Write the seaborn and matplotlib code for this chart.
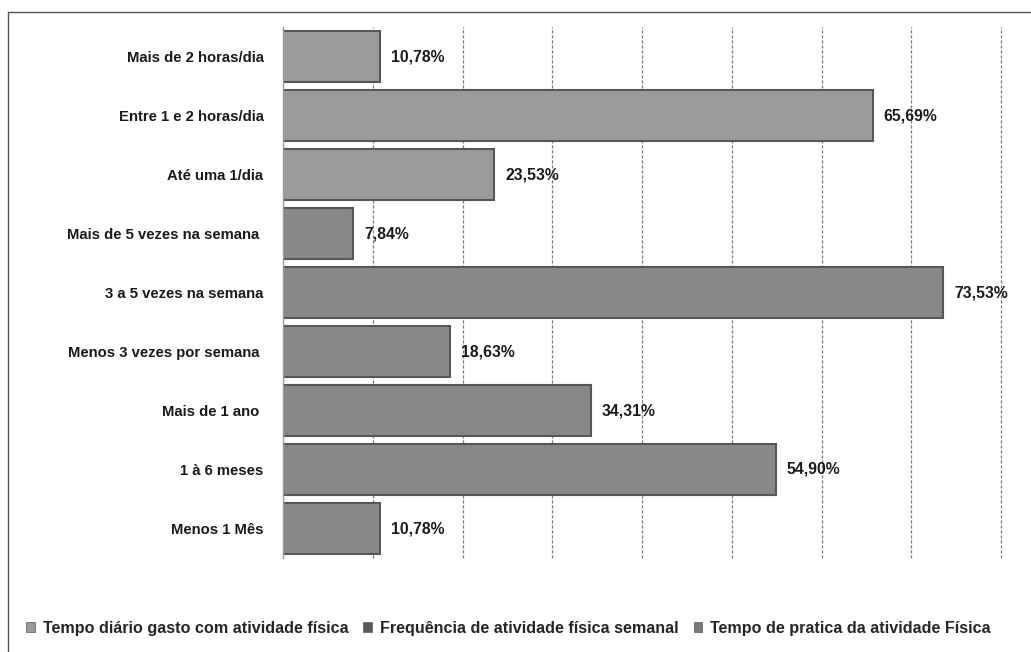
import matplotlib
matplotlib.use("Agg")
import matplotlib.pyplot as plt
from matplotlib.lines import Line2D
from matplotlib.patches import Patch
import seaborn as sns
import pandas as pd

# Categories, top to bottom, with their percentages and group
categorias = [
    "Mais de 2 horas/dia",
    "Entre 1 e 2 horas/dia",
    "Até uma 1/dia",
    "Mais de 5 vezes na semana ",
    "3 a 5 vezes na semana",
    "Menos 3 vezes por semana ",
    "Mais de 1 ano ",
    "1 à 6 meses",
    "Menos 1 Mês",
]
valores = [10.78, 65.69, 23.53, 7.84, 73.53, 18.63, 34.31, 54.90, 10.78]
grupos_nomes = [
    "Tempo diário gasto com atividade física",
    "Frequência de atividade física semanal",
    "Tempo de pratica da atividade Física",
]
grupo_idx = [0, 0, 0, 1, 1, 1, 2, 2, 2]

df = pd.DataFrame({
    "categoria": categorias,
    "valor": valores,
    "grupo": [grupos_nomes[i] for i in grupo_idx],
})

cores_barras = {grupos_nomes[0]: "#9b9b9b", grupos_nomes[1]: "#888888", grupos_nomes[2]: "#888888"}
cores_legenda = ["#9b9b9b", "#5c5c5c", "#7a7a7a"]

sns.set_style("white")
plt.rcParams["font.family"] = ["Liberation Sans", "DejaVu Sans"]

W, H = 1031, 652
fig = plt.figure(figsize=(W / 100, H / 100), dpi=100)
ax = fig.add_axes([283 / W, 1 - 558 / H, (1001 - 283) / W, (558 - 27) / H])

sns.barplot(
    data=df, x="valor", y="categoria", hue="grupo", order=categorias,
    hue_order=grupos_nomes, palette=cores_barras, dodge=False, width=0.86,
    edgecolor="#575757", linewidth=1.5, legend=False, ax=ax,
)

ax.set_xlim(0, 80)
ax.set_ylim(len(categorias) - 0.5, -0.5)
ax.set_xticks(range(10, 81, 10))
ax.set_xticklabels([])
ax.tick_params(axis="x", length=0)
ax.set_axisbelow(True)
ax.xaxis.grid(True, color="#7a7a7a", linestyle=(0, (2.5, 1.5)), linewidth=0.9)
for gl in ax.get_xgridlines():
    gl.set_clip_on(False)
ax.yaxis.grid(False)

for side in ["top", "right", "bottom"]:
    ax.spines[side].set_visible(False)
ax.spines["left"].set_color("#9a9a9a")
ax.spines["left"].set_linewidth(1.0)

ax.set_yticks(range(len(categorias)))
ax.set_yticklabels(categorias, fontsize=10.7, fontweight="bold", color="#1a1a1a")
ax.set_yticks([i - 0.5 for i in range(len(categorias) + 1)], minor=True)
ax.tick_params(axis="y", which="major", length=0, pad=14)
ax.tick_params(axis="y", which="minor", length=4, color="#8a8a8a", width=1)
ax.set_xlabel("")
ax.set_ylabel("")

for i, v in enumerate(valores):
    ax.annotate(f"{v:.2f}".replace(".", ",") + "%", xy=(v, i), xytext=(8, 0),
                textcoords="offset points", va="center", ha="left",
                fontsize=11.3, fontweight="bold", color="#1a1a1a")

handles = [Patch(facecolor=c, edgecolor="#6a6a6a", linewidth=0.6) for c in cores_legenda]
fig.legend(handles, grupos_nomes, loc="center left", bbox_to_anchor=(20 / W, 1 - 628 / H),
           ncol=3, frameon=False, handlelength=0.55, handleheight=0.55,
           handletextpad=0.5, columnspacing=0.9, borderaxespad=0,
           prop={"size": 11.6, "weight": "bold"})

# outer frame of the figure (top and left edges)
fig.add_artist(Line2D([8 / W, 1.0], [1 - 12 / H, 1 - 12 / H], transform=fig.transFigure,
                      color="#555555", linewidth=1.0))
fig.add_artist(Line2D([8 / W, 8 / W], [1 - 12 / H, 0.0], transform=fig.transFigure,
                      color="#555555", linewidth=1.0))

fig.savefig("out.png", dpi=100)
